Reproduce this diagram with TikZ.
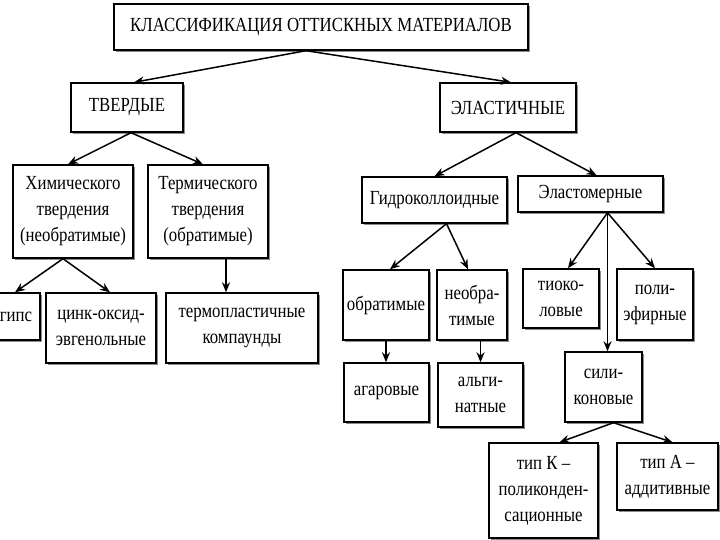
\documentclass[tikz,border=0pt]{standalone}
\usepackage{fontspec}
\setmainfont[FakeStretch=0.84]{Liberation Serif}
\usetikzlibrary{arrows.meta, calc, shadows}

\begin{document}
\begin{tikzpicture}[x=1pt, y=1pt,
  box/.style={draw, line width=1.4pt, fill=white, align=center,
              font=\fontsize{20}{26}\selectfont, inner sep=2pt,
              drop shadow={shadow xshift=1.8pt, shadow yshift=-1.8pt,
                           fill=black!45, opacity=1}},
  arr/.style={-{Stealth[length=10pt, width=8pt]}, line width=1.5pt},
]
  \useasboundingbox (0,0) rectangle (720,-540);

  \node[box, minimum width=414pt, minimum height=46pt] (title) at (321,-27)
    {КЛАССИФИКАЦИЯ ОТТИСКНЫХ МАТЕРИАЛОВ};
  \node[box, minimum width=112pt, minimum height=49pt] (tv) at (127,-107.5) {ТВЕРДЫЕ};
  \node[box, minimum width=136pt, minimum height=49pt] (el) at (508,-107.5) {ЭЛАСТИЧНЫЕ};

  \node[box, minimum width=120pt, minimum height=93pt] (chem) at (73,-211.5)
    {Химического\\твердения\\(необратимые)};
  \node[box, minimum width=120pt, minimum height=93pt] (term) at (208,-211.5)
    {Термического\\твердения\\(обратимые)};
  \node[box, minimum width=56pt, minimum height=47pt] (gyps) at (12,-316.5) {\hspace*{8pt}гипс};
  \node[box, minimum width=110pt, minimum height=70pt] (zinc) at (101,-328)
    {цинк-оксид-\\эвгенольные};
  \node[box, minimum width=152pt, minimum height=70pt] (thermo) at (242,-328)
    {термопластичные\\компаунды};

  \node[box, minimum width=145pt, minimum height=46pt] (hydro) at (434.5,-200) {Гидроколлоидные};
  \node[box, minimum width=145pt, minimum height=36pt] (elast) at (590.5,-194) {Эластомерные};
  \node[box, minimum width=86pt, minimum height=70pt] (obr) at (386,-305) {обратимые};
  \node[box, minimum width=70pt, minimum height=70pt] (neobr) at (472,-305) {необра-\\тимые};
  \node[box, minimum width=76pt, minimum height=59pt] (tiok) at (561,-298.5) {тиоко-\\ловые};
  \node[box, minimum width=76pt, minimum height=71pt] (poly) at (655,-304.5) {поли-\\эфирные};
  \node[box, minimum width=85pt, minimum height=59pt] (agar) at (386.5,-392.5) {агаровые};
  \node[box, minimum width=85pt, minimum height=64pt] (alg) at (480.5,-395) {альги-\\натные};
  \node[box, minimum width=77pt, minimum height=70pt] (sil) at (603.5,-387) {сили-\\коновые};
  \node[box, minimum width=109pt, minimum height=95pt] (typK) at (543.5,-490.5)
    {тип К –\\поликонден-\\сационные};
  \node[box, minimum width=101pt, minimum height=67pt] (typA) at (667.5,-476.5)
    {тип А –\\аддитивные};

  \coordinate (t0) at ($(title.south)+(-15,0)$);
  \draw[arr] (t0) -- ($(tv.north)+(7,0)$);
  \draw[arr] (t0) -- ($(el.north)+(3,0)$);

  \draw[arr] ($(tv.south)+(4,0)$) -- ($(chem.north)+(-5,0)$);
  \draw[arr] ($(tv.south)+(4,0)$) -- ($(term.north)+(-5,0)$);
  \draw[arr] ($(chem.south)+(-10,0)$) -- ($(gyps.north)+(3,0)$);
  \draw[arr] ($(chem.south)+(-10,0)$) -- ($(zinc.north)+(9,0)$);
  \coordinate (t1) at ($(term.south)+(18,0)$);
  \draw[arr] (t1) -- (t1 |- thermo.north);

  \draw[arr] ($(el.south)+(8,0)$) -- (hydro.north);
  \draw[arr] ($(el.south)+(8,0)$) -- ($(elast.north)+(6,0)$);
  \draw[arr] ($(hydro.south)+(12,0)$) -- ($(obr.north)+(4,0)$);
  \draw[arr] ($(hydro.south)+(12,0)$) -- ($(neobr.north)+(-4,0)$);
  \coordinate (e1) at ($(elast.south)+(17,0)$);
  \draw[arr] (e1) -- ($(tiok.north)+(7,0)$);
  \draw[arr] (e1) -- (poly.north);
  \draw[arr] (e1) -- (e1 |- sil.north);
  \draw[arr] (obr.south) -- (obr.south |- agar.north);
  \draw[arr] (neobr.south -| alg.north) -- (alg.north);
  \coordinate (s1) at ($(sil.south)+(10,0)$);
  \draw[arr] (s1) -- ($(typK.north)+(16,0)$);
  \draw[arr] (s1) -- ($(typA.north)+(5,0)$);
\end{tikzpicture}
\end{document}
